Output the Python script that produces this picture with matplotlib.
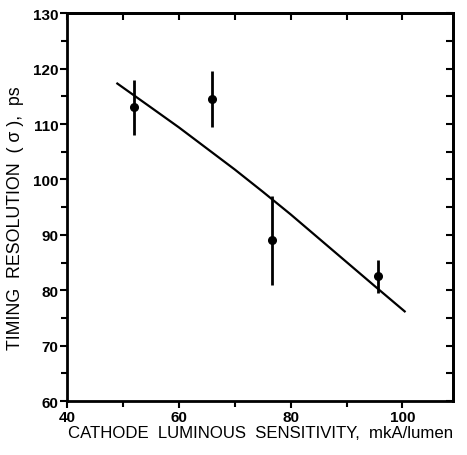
import matplotlib
matplotlib.use("Agg")
import matplotlib.pyplot as plt
from matplotlib.ticker import MultipleLocator, NullFormatter

# measured points (cathode sensitivity, timing resolution, error)
sens = [52.0, 66.0, 76.7, 95.6]
sigma = [113.0, 114.5, 89.0, 82.5]
sigma_err = [5.0, 5.0, 8.0, 3.0]

# fitted curve
fit_x = [49.0, 55.0, 60.0, 65.0, 70.0, 75.0, 80.0, 85.0, 90.0, 95.0, 100.4]
fit_y = [117.3, 113.0, 109.4, 105.6, 101.8, 97.8, 93.7, 89.4, 85.1, 80.8, 76.2]

plt.rcParams['font.family'] = ['Liberation Sans', 'DejaVu Sans']

fig = plt.figure(figsize=(4.67, 4.56), dpi=100)
ax = fig.add_axes([0.1435, 0.118, 0.826, 0.851])

ax.plot(fit_x, fit_y, color='black', linewidth=1.6)
ax.errorbar(sens, sigma, yerr=sigma_err, fmt='o', color='black',
            markersize=5.5, elinewidth=2, capsize=0)

ax.set_xlim(40, 109)
ax.set_ylim(60, 130)
ax.xaxis.set_major_locator(MultipleLocator(20))
ax.xaxis.set_minor_locator(MultipleLocator(10))
ax.yaxis.set_major_locator(MultipleLocator(10))
ax.yaxis.set_minor_locator(MultipleLocator(5))
ax.tick_params(which='both', direction='out', width=1.5, labelsize=11)
ax.tick_params(which='major', length=5, pad=1)
ax.tick_params(which='minor', length=4)
for lab in ax.get_xticklabels() + ax.get_yticklabels():
    lab.set_fontweight('bold')
for s in ax.spines.values():
    s.set_linewidth(2)

# inward ticks on the top and right sides
top = ax.secondary_xaxis('top')
top.xaxis.set_major_locator(MultipleLocator(10))
top.xaxis.set_major_formatter(NullFormatter())
top.tick_params(direction='in', length=5, width=1.5)
right = ax.secondary_yaxis('right')
right.yaxis.set_major_locator(MultipleLocator(5))
right.yaxis.set_major_formatter(NullFormatter())
right.tick_params(direction='in', length=5, width=1.5)
for sec in (top, right):
    for s in sec.spines.values():
        s.set_linewidth(2)

fig.text(0.146, 0.049, 'CATHODE  LUMINOUS  SENSITIVITY,  mkA/lumen',
         fontsize=12.1, ha='left', va='center')
fig.text(0.033, 0.522, 'TIMING  RESOLUTION  ( σ ),  ps', fontsize=12.8,
         rotation=90, ha='center', va='center')

fig.savefig('out.png', dpi=100)
